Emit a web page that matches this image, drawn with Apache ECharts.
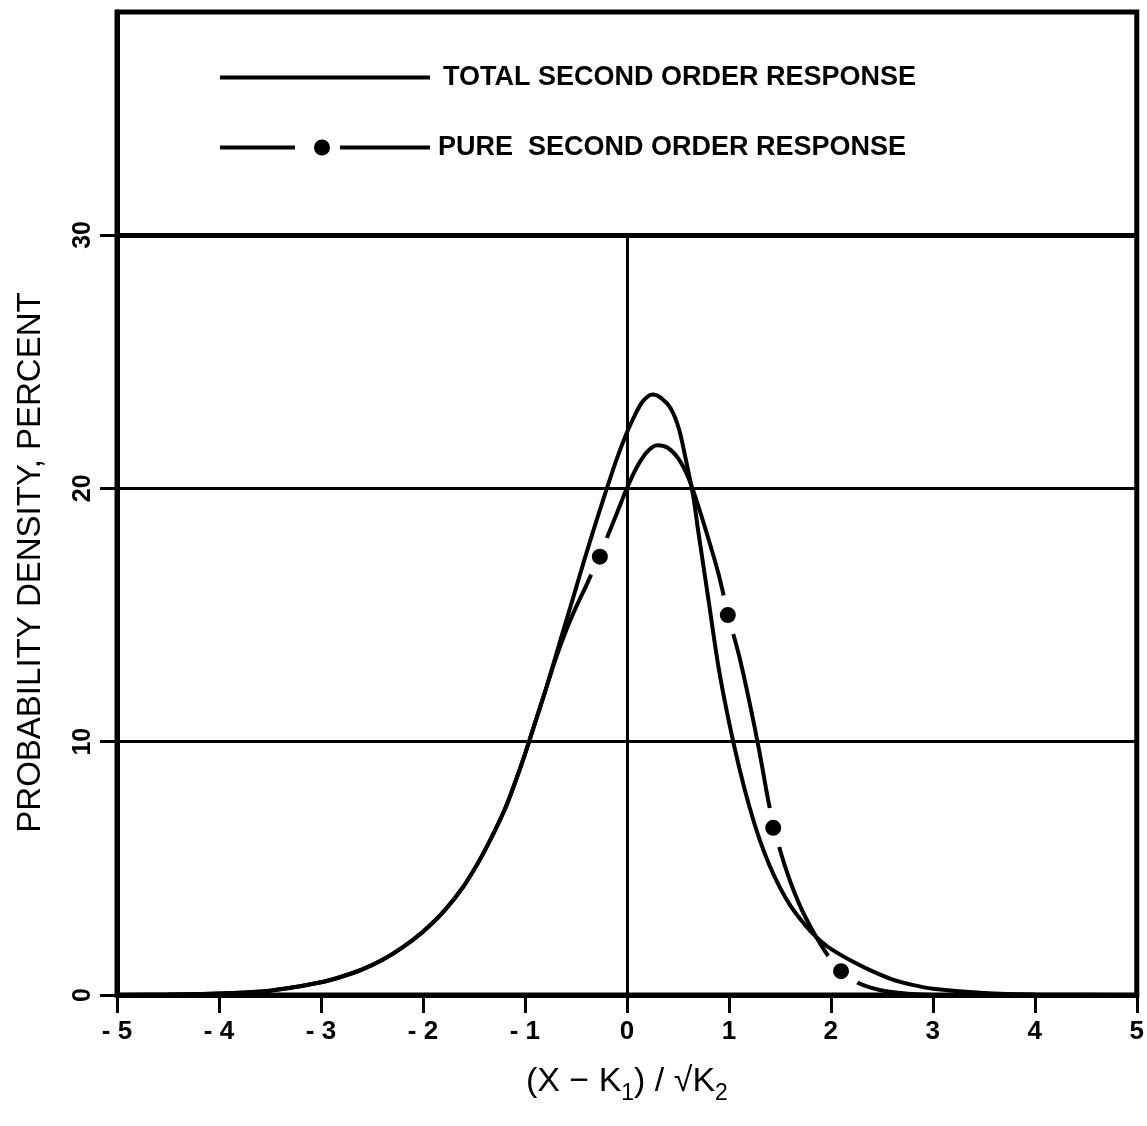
<!DOCTYPE html>
<html>
<head>
<meta charset="utf-8">
<title>Probability density</title>
<script src="https://cdn.jsdelivr.net/npm/echarts@6/dist/echarts.min.js"></script>
<style>
	html,body{margin:0;padding:0;background:#fff;}
	#main{width:1147px;height:1126px;}
</style>
</head>
<body>
<div id="main"></div>
<script>
var yTicks = [0, 10, 20, 30];
var gridLevels = [10, 20, 30];

// total second order response (solid curve)
var totalX = [-5, -4.5, -4, -3.5, -3.0, -2.8, -2.6, -2.4, -2.2, -2.0, -1.8, -1.6, -1.4, -1.2, -1.1, -1.0, -0.9, -0.8, -0.7, -0.6, -0.5, -0.4, -0.3, -0.2, -0.1, 0, 0.08, 0.16, 0.25, 0.34, 0.43, 0.51, 0.58, 0.65, 0.7, 0.8, 0.9, 1.0, 1.1, 1.2, 1.3, 1.4, 1.5, 1.6, 1.7, 1.8, 1.9, 2.0, 2.2, 2.4, 2.6, 2.8, 3.0, 3.5, 4, 5];
var totalY = [0, 0.02, 0.06, 0.17, 0.5, 0.72, 1.0, 1.38, 1.88, 2.5, 3.28, 4.3, 5.65, 7.3, 8.35, 9.5, 10.75, 12.0, 13.35, 14.7, 16.05, 17.4, 18.7, 19.95, 21.15, 22.2, 22.9, 23.45, 23.7, 23.55, 23.15, 22.35, 21.1, 19.7, 18.3, 15.6, 12.9, 10.8, 9.0, 7.45, 6.15, 5.1, 4.25, 3.55, 3.0, 2.52, 2.13, 1.82, 1.35, 0.95, 0.62, 0.4, 0.25, 0.08, 0.02, 0];

// pure second order response (broken curve with dots)
var pureX = [-5, -4.5, -4, -3.5, -3.0, -2.8, -2.6, -2.4, -2.2, -2.0, -1.8, -1.6, -1.4, -1.2, -1.1, -1.0, -0.9, -0.8, -0.7, -0.6, -0.5, -0.4, -0.3, -0.2, -0.1, 0, 0.1, 0.2, 0.3, 0.4, 0.5, 0.6, 0.7, 0.8, 0.9, 1.0, 1.1, 1.2, 1.3, 1.4, 1.5, 1.6, 1.7, 1.8, 1.9, 2.0, 2.1, 2.2, 2.3, 2.4, 2.5, 2.6, 2.8, 3.0];
var pureY = [0, 0.02, 0.06, 0.17, 0.5, 0.72, 1.0, 1.38, 1.88, 2.5, 3.28, 4.3, 5.65, 7.3, 8.35, 9.5, 10.75, 12.0, 13.25, 14.35, 15.3, 16.15, 17.05, 18.0, 19.0, 20.0, 20.85, 21.45, 21.7, 21.6, 21.2, 20.45, 19.3, 18.0, 16.6, 14.9, 13.4, 11.6, 9.6, 7.4, 5.75, 4.5, 3.5, 2.7, 2.0, 1.4, 0.94, 0.62, 0.42, 0.28, 0.18, 0.12, 0.04, 0];

var dotX = [-0.265, 0.99, 1.435, 2.1];
var dotY = [17.3, 15.0, 6.6, 0.94];

var totalName = 'TOTAL SECOND ORDER RESPONSE';
var pureName = 'PURE  SECOND ORDER RESPONSE';

function pairs(xs, ys){
	var out = [];
	for (var i = 0; i < xs.length; i++) out.push([xs[i], ys[i]]);
	return out;
}

function drawChart(element){
	var gridLines = gridLevels.map(function(v){
		return {yAxis: v, lineStyle: {width: v === 30 ? 5 : 3}};
	});
	gridLines.push([{coord: [0, 0]}, {coord: [0, 30]}]);

	var legendText = {
		color: '#000',
		fontFamily: 'Liberation Sans',
		fontWeight: 'bold',
		fontSize: 27
	};

	var option = {
		animation: false,
		backgroundColor: '#fff',
		grid: {
			left: 117, right: 10, top: 12, bottom: 131,
			show: true, borderColor: '#000', borderWidth: 5
		},
		legend: [
			{
				data: [totalName], left: 220, top: 64, padding: 0,
				selectedMode: false, icon: 'rect',
				itemWidth: 210, itemHeight: 4,
				itemStyle: {borderWidth: 0},
				textStyle: Object.assign({padding: [0, 0, 0, 8]}, legendText)
			},
			{
				data: [pureName], left: 220, top: 134, padding: 0,
				selectedMode: false,
				icon: 'path://M0,6L75,6L75,10L0,10Z M94,8A8,8 0 1,0 110,8A8,8 0 1,0 94,8Z M120,6L210,6L210,10L120,10Z',
				itemWidth: 210, itemHeight: 16,
				itemStyle: {borderWidth: 0},
				textStyle: Object.assign({padding: [0, 0, 0, 3]}, legendText)
			}
		],
		xAxis: {
			type: 'value', min: -5, max: 5, interval: 1,
			name: '{a|(X − K}{s|1}{a|) / √}{a|K}{s|2}',
			nameLocation: 'middle', nameGap: 64,
			nameTextStyle: {
				rich: {
					a: {fontFamily: 'Liberation Sans', fontSize: 34, color: '#000', lineHeight: 40, verticalAlign: 'bottom'},
					s: {fontFamily: 'Liberation Sans', fontSize: 23, color: '#000', lineHeight: 40, verticalAlign: 'bottom', padding: [0, 0, -6, 0]}
				}
			},
			axisLine: {onZero: false, lineStyle: {color: '#000', width: 5}},
			axisTick: {inside: false, length: 18, lineStyle: {color: '#000', width: 3}},
			axisLabel: {
				margin: 24, color: '#000', fontFamily: 'Liberation Sans', fontWeight: 'bold', fontSize: 26,
				formatter: function(v){ return v < 0 ? '- ' + (-v) : '' + v; }
			},
			splitLine: {show: false}
		},
		yAxis: {
			type: 'value', min: 0, max: 38.8, interval: 10,
			name: 'PROBABILITY DENSITY, PERCENT',
			nameLocation: 'middle', nameGap: 70,
			nameTextStyle: {color: '#000', fontFamily: 'Liberation Sans', fontSize: 33, padding: [0, 118, 0, 0]},
			axisLine: {onZero: false, lineStyle: {color: '#000', width: 5}},
			axisTick: {inside: false, length: 17, customValues: yTicks, lineStyle: {color: '#000', width: 3}},
			axisLabel: {
				margin: 21, rotate: 90, customValues: yTicks, showMaxLabel: true,
				color: '#000', fontFamily: 'Liberation Sans', fontWeight: 'bold', fontSize: 25
			},
			splitLine: {show: false}
		},
		series: [
			{
				name: pureName, type: 'line', z: 2,
				data: pairs(pureX, pureY),
				smooth: 0.3, symbol: 'none',
				lineStyle: {color: '#000', width: 4},
				itemStyle: {color: '#000'}
			},
			{
				name: 'dots', type: 'scatter', z: 3,
				data: pairs(dotX, dotY),
				symbol: 'circle', symbolSize: 28,
				itemStyle: {color: '#000', borderColor: '#fff', borderWidth: 12, opacity: 1}
			},
			{
				name: totalName, type: 'line', z: 4,
				data: pairs(totalX, totalY),
				smooth: 0.3, symbol: 'none',
				lineStyle: {color: '#000', width: 4},
				itemStyle: {color: '#000'},
				markLine: {
					silent: true, symbol: 'none',
					label: {show: false},
					lineStyle: {color: '#000', type: 'solid', width: 3},
					data: gridLines
				}
			}
		]
	};
	element.setOption(option);
}

var myChart = echarts.init(document.getElementById('main'));
drawChart(myChart);
</script>
</body>
</html>
